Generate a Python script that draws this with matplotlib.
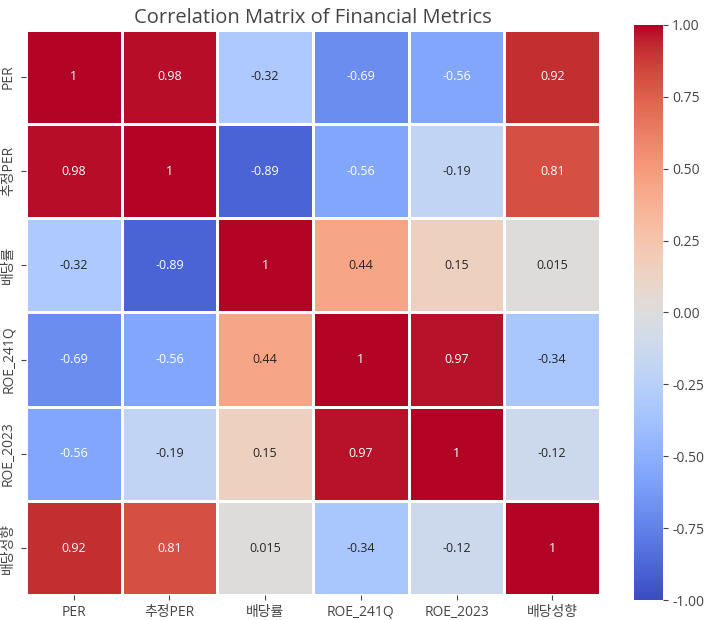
import matplotlib
matplotlib.use("Agg")
import matplotlib.pyplot as plt
import numpy as np
import pandas as pd
import seaborn as sns

labels = ["PER", "추정PER", "배당률", "ROE_241Q", "ROE_2023", "배당성향"]
row_per = [1, 0.98, -0.32, -0.69, -0.56, 0.92]
row_est_per = [0.98, 1, -0.89, -0.56, -0.19, 0.81]
row_div_yield = [-0.32, -0.89, 1, 0.44, 0.15, 0.015]
row_roe_241q = [-0.69, -0.56, 0.44, 1, 0.97, -0.34]
row_roe_2023 = [-0.56, -0.19, 0.15, 0.97, 1, -0.12]
row_payout = [0.92, 0.81, 0.015, -0.34, -0.12, 1]

corr = pd.DataFrame(
    [row_per, row_est_per, row_div_yield, row_roe_241q, row_roe_2023, row_payout],
    index=labels, columns=labels,
)

plt.rcParams["font.family"] = ["Open Sans", "Noto Sans CJK KR", "DejaVu Sans"]
text_color = "#444444"

fig = plt.figure(figsize=(7.17, 6.2), dpi=100)
ax = fig.add_axes([0.036, 0.04, 0.801, 0.912])
cax = fig.add_axes([0.884, 0.032, 0.04, 0.928])

sns.heatmap(
    corr, annot=True, cmap="coolwarm", vmin=-1, vmax=1,
    linewidths=0.8, linecolor="white", ax=ax, cbar_ax=cax,
    annot_kws={"fontsize": 9},
)
ax.set_title("Correlation Matrix of Financial Metrics", fontsize=14.5, color=text_color, pad=5)
ax.tick_params(colors=text_color, labelsize=10)
ax.set_xticklabels(labels, rotation=0, color=text_color)
ax.set_yticklabels(labels, rotation=90, va="center", color=text_color)
cbar_ticks = [-1, -0.75, -0.5, -0.25, 0, 0.25, 0.5, 0.75, 1]
cax.tick_params(colors=text_color, labelsize=10)
cax.set_yticks(cbar_ticks)
cax.set_yticklabels([f"{v:.2f}" for v in cbar_ticks])

fig.savefig("out.png", dpi=100)
